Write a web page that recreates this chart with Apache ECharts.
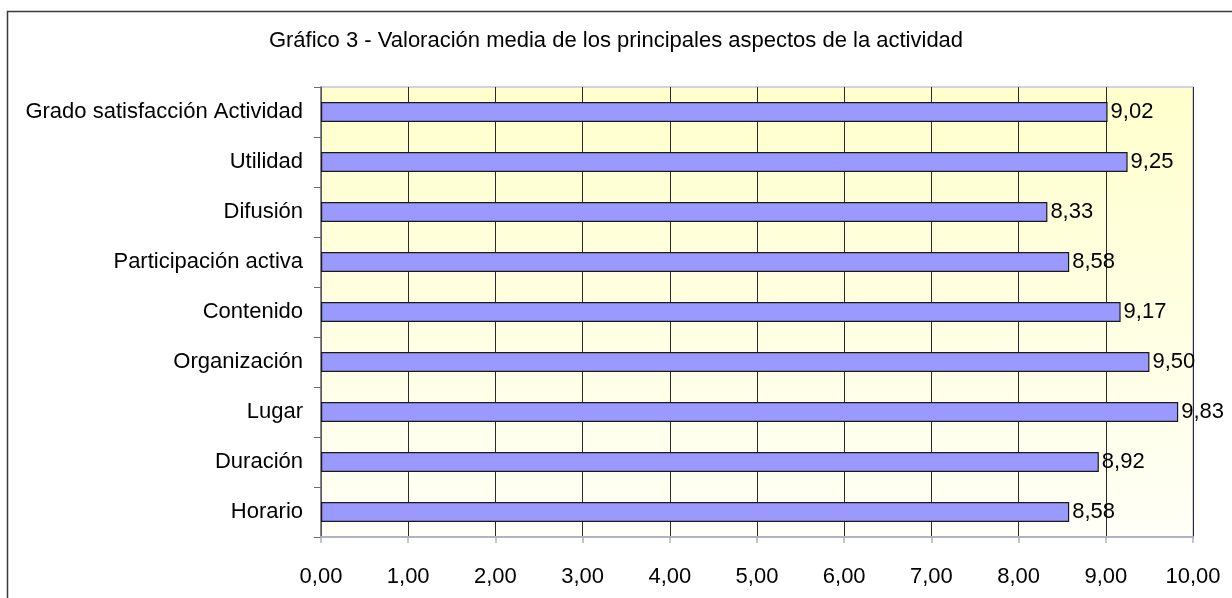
<!DOCTYPE html>
<html>
<head>
<meta charset="utf-8">
<script src="https://cdn.jsdelivr.net/npm/echarts@6/dist/echarts.min.js"></script>
<style>
html,body{margin:0;padding:0;background:#fff;}
#chart{width:1232px;height:598px;}
</style>
</head>
<body>
<div id="chart"></div>
<script>
var titleText = 'Gráfico 3 - Valoración media de los principales aspectos de la actividad';
var categories = ['Grado satisfacción Actividad','Utilidad','Difusión','Participación activa','Contenido','Organización','Lugar','Duración','Horario'];
var values = [9.02, 9.25, 8.33, 8.58, 9.17, 9.50, 9.83, 8.92, 8.58];
var xMin = 0, xMax = 10, xStep = 1;

function fmt(v){ return Number(v).toFixed(2).replace('.', ','); }

var chart = echarts.init(document.getElementById('chart'), null, {renderer:'canvas'});
var font = 'Liberation Sans, Arial, sans-serif';
var fs = 22;
chart.setOption({
  animation:false,
  backgroundColor:'#ffffff',
  textStyle:{fontFamily:font},
  title:{
    text:titleText, left:'center', top:25,
    textStyle:{fontFamily:font, fontSize:fs, fontWeight:'normal', color:'#000'}
  },
  graphic:[{
    type:'rect', left:5, top:9, silent:true, z:-1,
    shape:{width:1240, height:600},
    style:{fill:null, stroke:'#3a3a3a', lineWidth:1.5}
  }],
  grid:{
    left:321, right:39, top:87, bottom:61, containLabel:false,
    show:true, borderColor:'#c4c4e4', borderWidth:1.5,
    backgroundColor:new echarts.graphic.LinearGradient(0,0,0,1,[
      {offset:0,color:'#ffffcc'},{offset:0.5,color:'#ffffe2'},{offset:1,color:'#fffff6'}
    ])
  },
  xAxis:{
    type:'value', min:xMin, max:xMax, interval:xStep,
    axisLine:{show:true, lineStyle:{color:'#b0b0c8', width:2}},
    axisTick:{show:true, length:6, lineStyle:{color:'#b0b0b8', width:1.5}},
    splitLine:{show:true, lineStyle:{color:'#2a2a2a', width:1}},
    axisLabel:{fontFamily:font, fontSize:fs, color:'#000', margin:29, formatter:fmt}
  },
  yAxis:{
    type:'category', data:categories, inverse:true,
    axisLine:{show:true, lineStyle:{color:'#6a6a6a', width:1.5}},
    axisTick:{show:true, length:7, lineStyle:{color:'#6a6a6a'}},
    axisLabel:{fontFamily:font, fontSize:fs, color:'#000', margin:18}
  },
  series:[{
    type:'bar', data:values, barWidth:20,
    itemStyle:{color:'#9999ff', borderColor:'#1a1a1a', borderWidth:1.2},
    label:{show:true, position:'right', distance:3, fontFamily:font, fontSize:fs, color:'#000', formatter:function(p){return fmt(p.value);}}
  }]
});
</script>
</body>
</html>
